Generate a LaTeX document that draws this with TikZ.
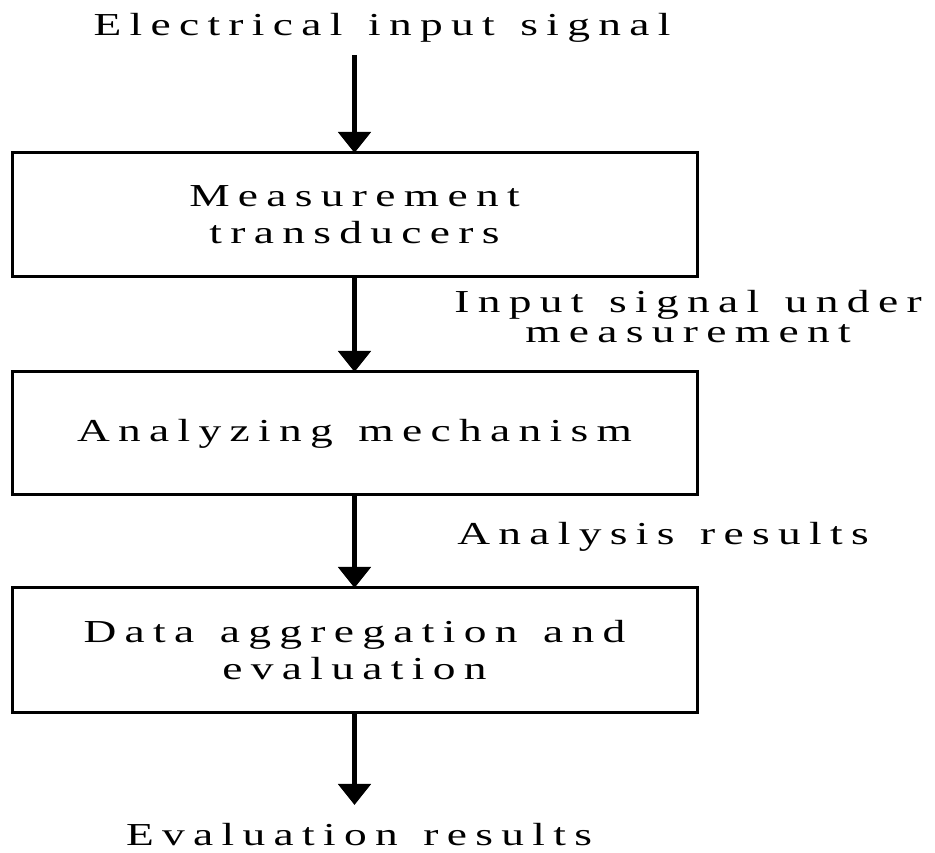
\documentclass[tikz,border=0pt]{standalone}
\usepackage{fontspec}
\setmainfont{Liberation Serif}[FakeStretch=1.42,LetterSpace=26,WordSpace=1.3]
\usetikzlibrary{arrows.meta}
\begin{document}
\begin{tikzpicture}[x=1pt,y=1pt,
  every node/.style={font=\fontsize{32}{37}\selectfont, inner sep=0pt, outer sep=0pt},
  stagebox/.style={draw, line width=3pt, minimum width=685pt, align=center},
  flowarrow/.style={line width=5pt, -{Triangle[width=32pt,length=21pt]}},
  sidelabel/.style={align=center, font=\fontsize{32}{30}\selectfont}
]
\useasboundingbox (0,0) rectangle (935,852);
\node[stagebox, minimum height=124pt] (b1) at (354.5,637) {Measurement\\transducers};
\node[stagebox, minimum height=123pt] (b2) at (354.5,418.5) {Analyzing mechanism};
\node[stagebox, minimum height=125pt] (b3) at (354.5,201.5) {Data aggregation and\\evaluation};
\node[anchor=base] (tin) at (382,816) {Electrical input signal};
\coordinate (ain) at (354.5,797);
\coordinate (aout) at (354.5,47);
\node[sidelabel, anchor=base] (l1) at (688,509) {Input signal under\\measurement};
\node[anchor=base] (l2) at (663,307) {Analysis results};
\node[anchor=base, text depth=0pt] (tout) at (359,7) {Evaluation results};
\draw[flowarrow] (ain) -- (b1.north);
\draw[flowarrow] (b1.south) -- (b2.north);
\draw[flowarrow] (b2.south) -- (b3.north);
\draw[flowarrow] (b3.south) -- (aout);
\end{tikzpicture}
\end{document}
